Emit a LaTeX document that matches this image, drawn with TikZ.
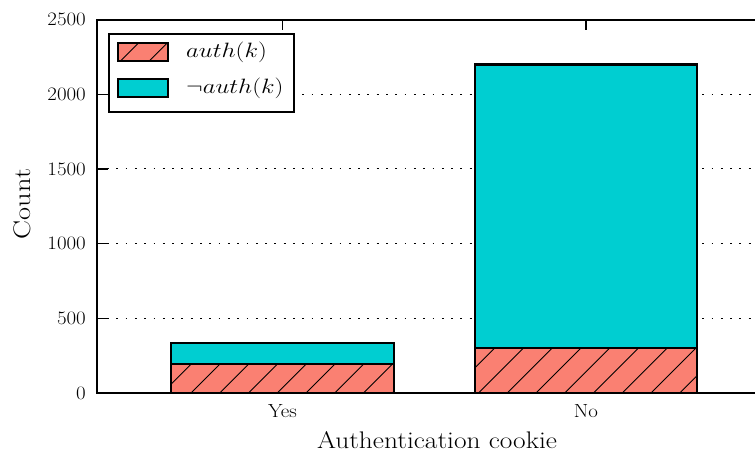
\documentclass[tikz,border=0pt]{standalone}
\definecolor{salmonc}{HTML}{FA8072}
\definecolor{turq}{HTML}{00CED1}
\tikzset{
  spine/.style={line width=2.4pt, line cap=rect},
  tickmark/.style={line width=1.4pt},
  gridline/.style={line width=1.1pt, dash pattern=on 1.8pt off 7.5pt},
  barbox/.style={draw=black, line width=2.4pt},
  hatchline/.style={line width=0.8pt},
  ticklabel/.style={font=\fontsize{19}{19}\selectfont, inner sep=0pt},
  axislabel/.style={font=\fontsize{24}{24}\selectfont, inner sep=0pt},
  legendtext/.style={font=\fontsize{22}{22}\selectfont, inner sep=0pt, anchor=west},
}
% wide setting of a label
\newcommand{\widetext}[2]{\scalebox{#1}[1]{#2}}
% y in data units -> picture units
\newcommand{\yv}[1]{(393-0.1494*#1)}
% diagonal hatch clipped to a rectangle (x1,y1)-(x2,y2)
\newcommand{\hatchbox}[4]{%
  \begin{scope}
    \clip ({#1},{#2}) rectangle ({#3},{#4});
    \foreach \c in {-30,...,40} {
      \pgfmathsetmacro{\cc}{584+28.75*\c}
      \draw[hatchline] ({\cc-(#4)},{#4}) -- ({\cc-(#2)},{#2});
    }
  \end{scope}}
\begin{document}
\begin{tikzpicture}[x=1pt,y=-1pt]
  \useasboundingbox (0,0) rectangle (755,455);

  % dotted grid
  \foreach \v in {500,1000,1500,2000} {
    \draw[gridline] (107,{\yv{\v}}) -- (780,{\yv{\v}});
  }

  % stacked bars: Yes
  \fill[salmonc] (171,{\yv{194}}) rectangle (394,393);
  \hatchbox{171}{\yv{194}}{394}{393}
  \fill[turq] (171,{\yv{334}}) rectangle (394,{\yv{194}});
  \draw[barbox] (171,{\yv{194}}) rectangle (394,393);
  \draw[barbox] (171,{\yv{334}}) rectangle (394,{\yv{194}});

  % stacked bars: No
  \fill[salmonc] (475,{\yv{301}}) rectangle (697,393);
  \hatchbox{475}{\yv{301}}{697}{393}
  \fill[turq] (475,{\yv{2200}}) rectangle (697,{\yv{301}});
  \draw[barbox] (475,{\yv{301}}) rectangle (697,393);
  \draw[barbox] (475,{\yv{2200}}) rectangle (697,{\yv{301}});

  % axes frame
  \draw[spine] (780,20) -- (97,20) -- (97,393) -- (780,393);

  % ticks
  \foreach \v in {500,1000,1500,2000} {
    \draw[tickmark] (97,{\yv{\v}}) -- (108,{\yv{\v}});
  }
  \draw[tickmark] (282.5,20) -- (282.5,30);
  \draw[tickmark] (586,20) -- (586,30);

  % tick labels
  \foreach \v in {0,500,1000,1500,2000,2500} {
    \node[ticklabel, anchor=east] (yl\v) at (86,{\yv{\v}}) {\widetext{1.1}{\v}};
  }
  \node[ticklabel, anchor=base] (xyes) at (282.5,417) {\widetext{1.1}{Yes}};
  \node[ticklabel, anchor=base] (xno) at (586,417) {\widetext{1.1}{No}};

  % axis labels
  \node[axislabel, anchor=base] (xlabel) at (437,448) {\widetext{1.14}{Authentication cookie}};
  \node[axislabel, rotate=90, anchor=base] (ylabel) at (30,204) {\widetext{1.18}{Count}};

  % legend
  \node[draw=black, line width=2pt, fill=white, minimum width=185pt, minimum height=78pt, inner sep=0pt, anchor=north west] (legend) at (108,33) {};
  \fill[salmonc] (118,43) rectangle (168,61);
  \hatchbox{118}{43}{168}{61}
  \draw[line width=2pt] (118,43) rectangle (168,61);
  \fill[turq] (118,79) rectangle (168,97);
  \draw[line width=2pt] (118,79) rectangle (168,97);
  \node[legendtext] (leg1) at (186,52) {\widetext{1.2}{$auth(k)$}};
  \node[legendtext] (leg2) at (186,88) {\widetext{1.2}{$\neg auth(k)$}};
\end{tikzpicture}
\end{document}
